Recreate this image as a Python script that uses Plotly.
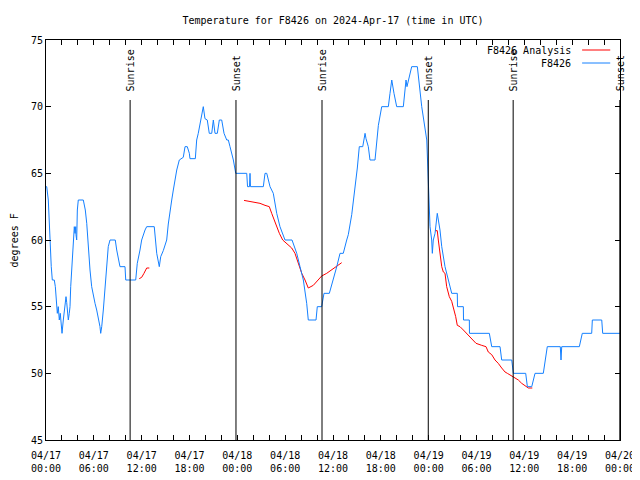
import plotly.graph_objects as go
from datetime import datetime, timedelta

BASE = datetime(2024, 4, 17)

# Station observations (hours after 2024-04-17 00:00 UTC, degrees F)
BLUE_HOURS = [0.00, 0.09, 0.29, 0.41, 0.54, 0.66, 0.79, 1.04, 1.17, 1.29, 1.42, 1.54, 1.67, 1.79, 1.92, 2.01,
              2.17, 2.26, 2.38, 2.51, 2.60, 2.67, 2.80, 2.92, 3.01, 3.10, 3.30, 3.42, 3.55, 3.64, 3.73, 3.76,
              3.85, 3.93, 4.05, 4.68, 4.80, 4.93, 5.11, 5.23, 5.36, 5.52, 5.73, 5.93, 6.15, 6.36, 6.56, 6.77,
              6.86, 6.99, 7.19, 7.40, 7.61, 7.81, 8.03, 8.69, 8.87, 9.12, 9.28, 9.91, 10.00, 11.25, 11.45,
              11.79, 12.00, 12.42, 12.63, 13.58, 13.89, 14.21, 14.39, 14.71, 15.14, 15.34, 15.55, 15.77,
              15.97, 16.18, 16.40, 16.72, 17.22, 17.44, 17.72, 17.98, 18.06, 18.73, 18.90, 19.10, 19.32,
              19.53, 19.73, 19.94, 20.23, 20.48, 20.79, 20.99, 21.20, 21.49, 21.74, 22.04, 22.33, 22.67,
              22.87, 23.08, 23.29, 23.50, 23.80, 25.18, 25.28, 25.53, 25.59, 25.65, 27.26, 27.47, 27.69,
              28.10, 28.51, 28.94, 29.35, 29.98, 30.86, 31.45, 31.86, 32.28, 32.70, 32.90, 33.87, 34.03,
              34.58, 34.87, 35.54, 36.04, 36.47, 36.88, 37.29, 37.72, 37.92, 38.35, 38.76, 39.05, 39.30,
              39.73, 40.02, 40.14, 40.43, 40.64, 41.27, 41.69, 42.11, 42.94, 43.15, 43.37, 43.65, 43.99,
              44.82, 45.16, 45.28, 45.45, 45.87, 46.58, 47.13, 47.76, 47.96, 48.17, 48.38, 48.46, 48.58,
              48.80, 49.08, 49.42, 49.64, 50.05, 50.47, 50.89, 51.59, 51.62, 52.35, 52.37, 53.10, 53.12,
              55.61, 55.91, 56.95, 57.16, 58.42, 58.62, 60.17, 60.38, 60.93, 61.34, 62.38, 62.88, 64.51,
              64.60, 64.69, 66.90, 67.27, 68.45, 68.53, 69.71, 69.83, 72.00]
BLUE_TEMPS = [64, 64, 63, 61, 59.1, 58, 57, 57, 56.5, 55.7, 54.5, 55, 54, 54.5, 53.5, 53,
              54, 54.5, 55.3, 55.75, 55.3, 54.5, 54, 54.5, 55, 56.5, 58.5, 60, 61, 60.5, 61, 60.4,
              60, 62.25, 63, 63, 62.6, 62.25, 61.25, 60, 59.25, 57.75, 56.5, 55.75, 55.25, 54.75, 54.25, 53.5,
              53, 53.5, 54.75, 56.5, 58.5, 59.5, 60, 60, 59.25, 58.5, 58, 58, 57, 57, 58.25,
              59.25, 60, 60.75, 61, 61, 59, 58, 58.75, 59.2, 60, 61.2, 62.25, 63,
              63.75, 64.5, 65.25, 66, 66.2, 67, 67, 66.5, 66.1, 66.1, 67.5, 68, 68.75,
              69.5, 70, 69.1, 69, 68, 68, 69, 68, 68, 69, 69, 68, 67.5,
              67.5, 67, 66.5, 66, 65, 65, 64, 64, 65, 64, 64, 65, 65,
              64, 63.5, 62, 61, 60, 60, 59, 58, 57, 55.25, 54, 54, 55,
              55, 56, 56, 57, 58, 59, 59, 60, 60.4, 61.9, 63.9, 65.4, 67,
              67, 68, 67.6, 67, 66, 66, 68.6, 70, 70, 71, 72, 71, 70,
              70, 72, 71.5, 72, 73, 73, 70, 67.5, 64.3, 61, 60, 59, 60,
              60.5, 62, 60.75, 59.5, 58, 57, 56, 56, 55, 55, 54, 54, 53,
              53, 52, 52, 51, 51, 50, 50, 49, 49, 50, 50, 52, 52,
              51, 52, 52, 53, 53, 54, 54, 53, 53]

# Analysis series (None separates the segments)
RED_HOURS = [11.70, 12.00, 12.29, 12.63, 12.96, None,
             24.84, 25.50, 26.22, 26.84, 27.47, 28.01, 28.31, 28.60, 28.94, 29.27, 29.69, 30.19, 30.82,
             31.23, 31.65, 32.08, 32.49, 32.90, 33.53, 34.16, 34.58, 35.21, 35.84, 36.25, 37.09, None,
             48.80, 49.08, 49.21, 49.42, 49.64, 49.84, 50.05, 50.26, 50.59, 50.89, 51.09, 51.39, 51.59,
             51.93, 52.35, 52.77, 53.19, 53.52, 53.94, 54.65, 55.19, 55.48, 55.91, 56.32, 56.73, 57.16,
             57.58, 57.87, 58.42, 58.83, 59.25, 59.67, 60.09, 60.50, 61.00]
RED_TEMPS = [57.1, 57.2, 57.5, 57.9, 57.9, None,
             62.97, 62.9, 62.8, 62.75, 62.6, 62.5, 62, 61.5, 61, 60.5, 60, 59.7, 59.4,
             59, 58.25, 57.5, 57, 56.4, 56.6, 57, 57.3, 57.5, 57.75, 57.9, 58.3, None,
             60.7, 60.7, 60, 59, 58, 57.6, 57.5, 56.5, 55.75, 55.4, 55, 54.25, 53.6,
             53.5, 53.25, 53, 52.75, 52.5, 52.25, 52.1, 52, 51.6, 51.4, 51, 50.75, 50.4,
             50.1, 50, 49.8, 49.6, 49.5, 49.25, 49.1, 48.9, 48.9]

SUN_LABELS = ["Sunrise", "Sunset", "Sunrise", "Sunset", "Sunrise", "Sunset"]
SUN_HOURS = [10.55, 23.83, 34.62, 47.95, 58.60, 71.98]

TICK_HOURS = list(range(0, 73, 2))
TICK_LABELS = {0: "04/17<br>00:00", 6: "04/17<br>06:00", 12: "04/17<br>12:00", 18: "04/17<br>18:00",
               24: "04/18<br>00:00", 30: "04/18<br>06:00", 36: "04/18<br>12:00", 42: "04/18<br>18:00",
               48: "04/19<br>00:00", 54: "04/19<br>06:00", 60: "04/19<br>12:00", 66: "04/19<br>18:00",
               72: "04/20<br>00:00"}
Y_TICKS = [45, 50, 55, 60, 65, 70, 75]

FONT = "DejaVu Sans Mono"
BLUE = "#1480ff"
RED = "#ff0000"

# the page body adds an 8px offset, so the figure is sized to fill the rest of the window
FIG_W, FIG_H = 632, 472


def t(h):
    return None if h is None else BASE + timedelta(hours=h)


fig = go.Figure()
fig.add_trace(go.Scatter(x=[t(h) for h in RED_HOURS], y=RED_TEMPS, mode="lines",
                         name="F8426 Analysis", line=dict(color=RED, width=1),
                         connectgaps=False, showlegend=False))
fig.add_trace(go.Scatter(x=[t(h) for h in BLUE_HOURS], y=BLUE_TEMPS, mode="lines",
                         name="F8426", line=dict(color=BLUE, width=1), showlegend=False))

shapes = []
annotations = []
for lab, h in zip(SUN_LABELS, SUN_HOURS):
    shapes.append(dict(type="line", xref="x", yref="y", x0=t(h), x1=t(h), y0=45, y1=70.5,
                       line=dict(color="black", width=1)))
    annotations.append(dict(x=t(h), y=71.0, xref="x", yref="y", text=lab, textangle=-90,
                            showarrow=False, xanchor="center", yanchor="bottom",
                            font=dict(family=FONT, size=10, color="black")))

# manual gnuplot-style legend (text, then line sample)
for i, (name, col) in enumerate([("F8426 Analysis", RED), ("F8426", BLUE)]):
    yp = 0.975 - i * 0.0325
    annotations.append(dict(x=0.918, y=yp, xref="paper", yref="paper", text=name, showarrow=False,
                            xanchor="right", yanchor="middle",
                            font=dict(family=FONT, size=10, color="black")))
    shapes.append(dict(type="line", xref="paper", yref="paper", x0=0.934, x1=0.983, y0=yp, y1=yp,
                       line=dict(color=col, width=1)))

annotations.append(dict(x=-0.055, y=0.5, xref="paper", yref="paper", text="degrees F",
                        textangle=-90, showarrow=False, xanchor="center", yanchor="middle",
                        font=dict(family=FONT, size=10, color="black")))

fig.update_layout(
    width=FIG_W, height=FIG_H,
    margin=dict(l=38, r=20, t=32, b=40, autoexpand=False),
    paper_bgcolor="white", plot_bgcolor="white",
    font=dict(family=FONT, size=10, color="black"),
    title=dict(text="Temperature for F8426 on 2024-Apr-17 (time in UTC)", x=0.5, xref="paper",
               xanchor="center", y=1 - 12 / FIG_H, yref="container", yanchor="middle",
               font=dict(family=FONT, size=10, color="black")),
    shapes=shapes, annotations=annotations, showlegend=False,
)
fig.update_xaxes(
    type="date", range=[t(0), t(72)], automargin=False,
    tickmode="array", tickvals=[t(h) for h in TICK_HOURS],
    ticktext=[TICK_LABELS.get(h, "") for h in TICK_HOURS],
    ticks="inside", ticklen=5, tickcolor="black", tickwidth=1, ticklabelstandoff=6,
    showline=True, linecolor="black", linewidth=1, mirror="allticks",
    showgrid=False, zeroline=False, tickfont=dict(family=FONT, size=10),
)
fig.update_yaxes(
    range=[45, 75], tickmode="array", tickvals=Y_TICKS, ticktext=[str(v) for v in Y_TICKS],
    automargin=False,
    ticks="inside", ticklen=5, tickcolor="black", tickwidth=1,
    showline=True, linecolor="black", linewidth=1, mirror="allticks",
    showgrid=False, zeroline=False, tickfont=dict(family=FONT, size=10),
)

fig.write_html("out.html")
